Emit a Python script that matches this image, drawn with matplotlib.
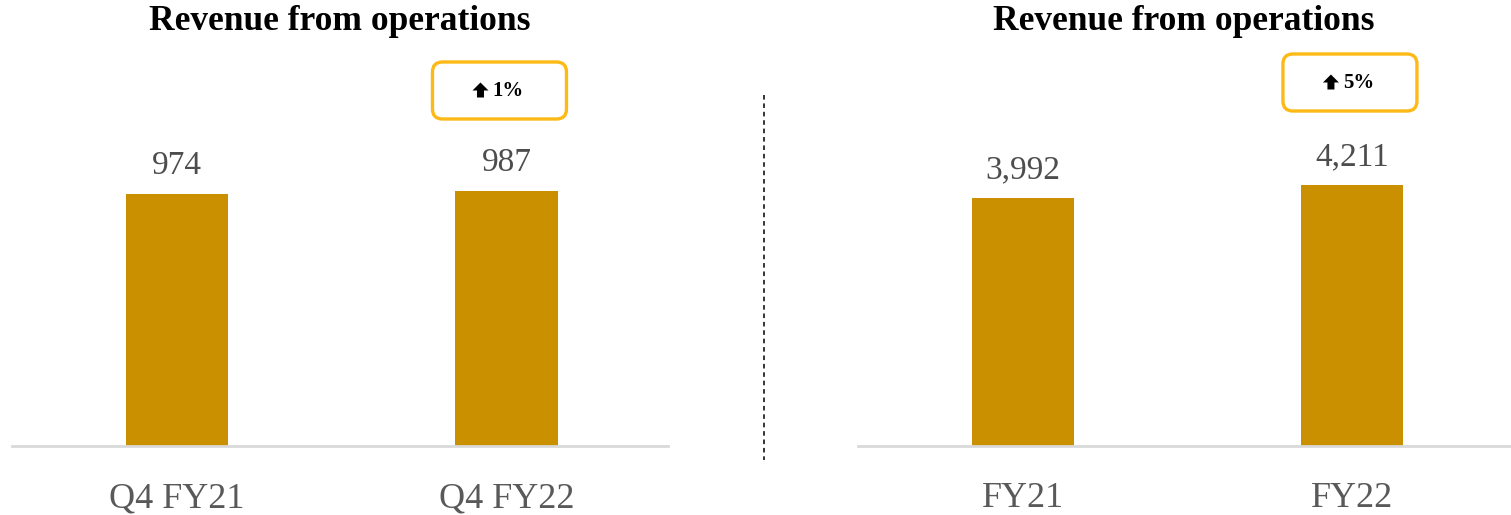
"""Revenue from operations: quarterly and full-year comparison."""

import matplotlib

matplotlib.use("Agg")
import matplotlib.pyplot as plt
from matplotlib.lines import Line2D
from matplotlib.patches import FancyBboxPatch, Polygon
from matplotlib.transforms import IdentityTransform

# data
quarter_labels = ["Q4 FY21", "Q4 FY22"]
quarter_values = [974, 987]
quarter_growth = "1%"

year_labels = ["FY21", "FY22"]
year_values = [3992, 4211]
year_growth = "5%"

title = "Revenue from operations"

BAR_COLOR = "#CB9000"
BOX_COLOR = "#FDB916"
TEXT_GREY = "#4D4D4D"
SERIF = ["Liberation Serif", "DejaVu Serif"]

W, H = 1511, 515


def fig_rect(x0, y0, x1, y1):
    # pixel box (top-left origin) -> figure fraction rect
    return [x0 / W, 1 - y1 / H, (x1 - x0) / W, (y1 - y0) / H]


def up_arrow(fig, x, y):
    # chunky filled up-arrow centred at pixel (x, y), origin bottom-left
    pts = [(-8, 0), (0, 8), (8, 0), (3.5, 0), (3.5, -7),
           (-3.5, -7), (-3.5, 0)]
    fig.add_artist(Polygon([(x + dx, y + dy) for dx, dy in pts], closed=True,
                           transform=IdentityTransform(), facecolor="black",
                           edgecolor="none"))


def draw_panel(fig, ax, labels, values, ymax, xmax, growth, box_top, box_dx):
    x = range(len(values))
    ax.bar(x, values, width=0.31, color=BAR_COLOR, zorder=2)
    ax.set_xlim(-0.5, xmax)
    ax.set_ylim(0, ymax)
    for i, v in zip(x, values):
        ax.annotate(f"{v:,}", (i, v), xytext=(0, 9), textcoords="offset points",
                    ha="center", va="bottom", fontsize=24, color=TEXT_GREY,
                    family=SERIF)
    ax.set_xticks(list(x))
    ax.set_xticklabels(labels, fontsize=26, color="#595959", family=SERIF)
    ax.tick_params(axis="x", length=0, pad=26)
    ax.set_yticks([])
    for side in ("top", "right", "left"):
        ax.spines[side].set_visible(False)
    ax.spines["bottom"].set_color("#D9D9D9")
    ax.spines["bottom"].set_linewidth(2)

    # title centred over the panel
    pos = ax.get_position()
    fig.text(pos.x0 + pos.width / 2, 1 - 22 / H, title, ha="center",
             va="center", fontsize=25.5, fontweight="bold", family=SERIF)

    # growth badge above the latest bar
    cx = ax.transData.transform((len(values) - 1, 0))[0] + box_dx
    bw, bh = 134, 57
    y0 = H - box_top - bh
    fig.add_artist(FancyBboxPatch((cx - bw / 2, y0), bw, bh,
                                  boxstyle="round,pad=0,rounding_size=10",
                                  transform=IdentityTransform(),
                                  facecolor="white", edgecolor=BOX_COLOR,
                                  linewidth=2.4))
    cy = y0 + bh / 2
    up_arrow(fig, cx - 19, cy)
    fig.text((cx - 7) / W, cy / H, growth, ha="left", va="center",
             fontsize=15, fontweight="bold", family=SERIF)


fig = plt.figure(figsize=(15.11, 5.15), dpi=100)
ax1 = fig.add_axes(fig_rect(12, 100, 668, 446))
ax2 = fig.add_axes(fig_rect(858, 100, 1510, 446))

draw_panel(fig, ax1, quarter_labels, quarter_values, 1337, 1.49,
           quarter_growth, 62, -7)
draw_panel(fig, ax2, year_labels, year_values, 5572, 1.48,
           year_growth, 54, -2)

fig.add_artist(Line2D([764 / W, 764 / W], [1 - 95 / H, 1 - 460 / H],
                      transform=fig.transFigure, color="black",
                      linestyle=(0, (3, 2.5)), linewidth=1.1))

fig.savefig("out.png", dpi=100)
